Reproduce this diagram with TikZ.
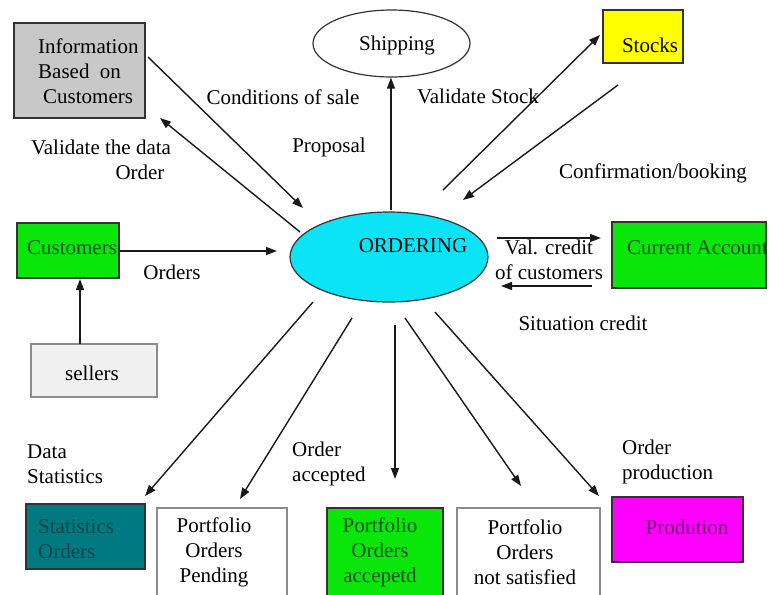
\documentclass[tikz,border=0pt]{standalone}
\usepackage{fontspec}
\setmainfont{Liberation Serif}
\newfontfamily\diagfont{Liberation Serif}
\usetikzlibrary{arrows.meta,shapes.geometric}
\definecolor{infogray}{RGB}{200,200,200}
\definecolor{sellgray}{RGB}{240,240,240}
\definecolor{ordcyan}{RGB}{10,228,245}
\definecolor{brightgreen}{RGB}{10,230,10}
\definecolor{darkgreen}{RGB}{0,80,0}
\definecolor{statteal}{RGB}{0,122,128}
\definecolor{darkteal}{RGB}{0,70,80}
\definecolor{stockyellow}{RGB}{255,255,0}
\definecolor{prodmag}{RGB}{255,0,255}
\definecolor{darkpurple}{RGB}{110,0,110}
\begin{document}
\begin{tikzpicture}[x=1pt,y=-1pt,
  box/.style={rectangle,draw=black!80,line width=1.2pt,inner sep=0pt},
  gbox/.style={box,draw=black!45},
  oval/.style={ellipse,draw=black!80,line width=1.2pt,inner sep=0pt},
  lbl/.style={font=\diagfont\fontsize{21}{25}\selectfont,inner sep=0pt},
  flow/.style={-{Triangle[length=11pt,width=8pt]},line width=1.4pt,draw=black!90}]
\useasboundingbox (0,0) rectangle (772,595);
\clip (0,0) rectangle (772,595);

% boxes and ellipses
\node[box,fill=infogray,minimum width=131pt,minimum height=95pt] (info) at (79.5,70.5) {};
\node[oval,fill=white,minimum width=157pt,minimum height=67pt] (ship) at (391.5,43.5) {};
\node[box,fill=stockyellow,minimum width=80pt,minimum height=53pt] (stocks) at (643,36.5) {};
\node[oval,fill=ordcyan,minimum width=198pt,minimum height=90pt] (order) at (389,257) {};
\node[box,fill=brightgreen,minimum width=102pt,minimum height=55pt] (cust) at (68,250.5) {};
\node[gbox,fill=sellgray,minimum width=126pt,minimum height=53pt] (sellers) at (94,370.5) {};
\node[box,fill=brightgreen,minimum width=154pt,minimum height=66pt] (acct) at (689,255) {};
\node[box,fill=statteal,minimum width=119pt,minimum height=65pt] (stats) at (85.5,536.5) {};
\node[gbox,fill=white,minimum width=130pt,minimum height=102pt] (pend) at (222,559) {};
\node[box,fill=brightgreen,minimum width=116pt,minimum height=102pt] (accp) at (385,559) {};
\node[gbox,fill=white,minimum width=143pt,minimum height=102pt] (nsat) at (528.5,559) {};
\node[box,fill=prodmag,minimum width=131pt,minimum height=65pt] (prod) at (677.5,529.5) {};

% texts inside the shapes
\node[lbl,align=left,anchor=west] (infot) at (38,71) {Information\\Based\hspace{5pt} on\\\hspace{5pt}Customers};
\node[lbl] (shipt) at (397,45) {Shipping};
\node[lbl] (stockst) at (650,45) {Stocks};
\node[lbl] (ordert) at (413,246) {ORDERING};
\node[lbl,text=darkgreen] (custt) at (72,248) {Customers};
\begin{scope}
  \clip (612,222) rectangle (766,288);
  \node[lbl,text=darkgreen,anchor=west] (acctt) at (627,248) {Current Account};
\end{scope}
\node[lbl] (sellerst) at (92,373) {sellers};
\node[lbl,text=darkteal,align=left,anchor=west] (statst) at (38,539.5) {Statistics\\Orders};
\node[lbl,align=center] (pendt) at (214,552) {Portfolio\\Orders\\Pending};
\node[lbl,align=center,text=darkgreen] (accpt) at (380,552) {Portfolio\\Orders\\accepetd};
\node[lbl,align=center] (nsatt) at (525,552) {Portfolio\\Orders\\not satisfied};
\node[lbl,text=darkpurple] (prodt) at (687,527) {Prodution};

% connector end points
\coordinate (c1s) at (148,57);   \coordinate (c1e) at (303,208);
\coordinate (c2s) at (300,232);  \coordinate (c2e) at (160,118);
\coordinate (c3s) at (391,210);
\coordinate (c4s) at (443,190);  \coordinate (c4e) at (600,35);
\coordinate (c5s) at (618,85);   \coordinate (c5e) at (463,200);
\coordinate (c6e) at (277,251);
\coordinate (c7s) at (80,344);   \coordinate (c7e) at (80,279);
\coordinate (c8s) at (497,238);  \coordinate (c8e) at (601,238);
\coordinate (c9s) at (592,286);  \coordinate (c9e) at (501,286);
\coordinate (c10s) at (313,302); \coordinate (c10e) at (145,496);
\coordinate (c11s) at (352,318); \coordinate (c11e) at (240,499);
\coordinate (c12s) at (395,325); \coordinate (c12e) at (395,479);
\coordinate (c13s) at (405,318); \coordinate (c13e) at (521,486);
\coordinate (c14s) at (435,312); \coordinate (c14e) at (599,496);

% connectors
\draw[flow] (c1s) -- (c1e);
\draw[flow] (c2s) -- (c2e);
\draw[flow] (c3s) -- (c3s |- ship.south);
\draw[flow] (c4s) -- (c4e);
\draw[flow] (c5s) -- (c5e);
\draw[flow] (cust.east |- c6e) -- (c6e);
\draw[flow] (c7s) -- (c7e);
\draw[flow] (c8s) -- (c8e);
\draw[flow] (c9s) -- (c9e);
\draw[flow] (c10s) -- (c10e);
\draw[flow] (c11s) -- (c11e);
\draw[flow] (c12s) -- (c12e);
\draw[flow] (c13s) -- (c13e);
\draw[flow] (c14s) -- (c14e);

% connector labels
\node[lbl] (l1) at (283,97) {Conditions of sale};
\node[lbl] (l2) at (329,147) {Proposal};
\node[lbl] (l3a) at (101,147) {Validate the data};
\node[lbl] (l3b) at (140,172) {Order};
\node[lbl] (l4) at (478,96) {Validate Stock};
\node[lbl] (l5) at (653,173) {Confirmation/booking};
\node[lbl] (l6) at (172,272) {Orders};
\node[lbl,align=center] (l7) at (549,260) {Val. credit\\of customers};
\node[lbl] (l8) at (583,323) {Situation credit};
\node[lbl,align=left,anchor=west] (l9) at (27,464) {Data\\Statistics};
\node[lbl,align=left,anchor=west] (l10) at (292,464) {Order\\accepted};
\node[lbl,align=left,anchor=west] (l11) at (622,462) {Order\\production};
\end{tikzpicture}
\end{document}
